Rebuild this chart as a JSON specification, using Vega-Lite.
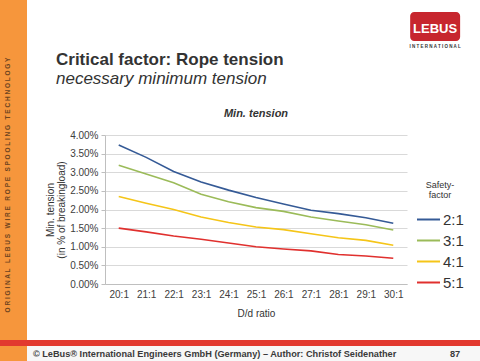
{
  "$schema": "https://vega.github.io/schema/vega-lite/v6.json",
  "padding": 0,
  "spacing": 0,
  "background": "white",
  "config": {
    "font": "Liberation Sans",
    "view": {"stroke": null},
    "concat": {"spacing": 0}
  },
  "datasets": {
    "tension": [
      {"ratio": "20:1", "factor": "2:1", "value": 0.0373},
      {"ratio": "21:1", "factor": "2:1", "value": 0.0340},
      {"ratio": "22:1", "factor": "2:1", "value": 0.0302},
      {"ratio": "23:1", "factor": "2:1", "value": 0.0274},
      {"ratio": "24:1", "factor": "2:1", "value": 0.0252},
      {"ratio": "25:1", "factor": "2:1", "value": 0.0232},
      {"ratio": "26:1", "factor": "2:1", "value": 0.0215},
      {"ratio": "27:1", "factor": "2:1", "value": 0.0198},
      {"ratio": "28:1", "factor": "2:1", "value": 0.0189},
      {"ratio": "29:1", "factor": "2:1", "value": 0.0178},
      {"ratio": "30:1", "factor": "2:1", "value": 0.0163},
      {"ratio": "20:1", "factor": "3:1", "value": 0.0319},
      {"ratio": "21:1", "factor": "3:1", "value": 0.0295},
      {"ratio": "22:1", "factor": "3:1", "value": 0.0272},
      {"ratio": "23:1", "factor": "3:1", "value": 0.0241},
      {"ratio": "24:1", "factor": "3:1", "value": 0.0221},
      {"ratio": "25:1", "factor": "3:1", "value": 0.0205},
      {"ratio": "26:1", "factor": "3:1", "value": 0.0195},
      {"ratio": "27:1", "factor": "3:1", "value": 0.0180},
      {"ratio": "28:1", "factor": "3:1", "value": 0.0169},
      {"ratio": "29:1", "factor": "3:1", "value": 0.0159},
      {"ratio": "30:1", "factor": "3:1", "value": 0.0145},
      {"ratio": "20:1", "factor": "4:1", "value": 0.0235},
      {"ratio": "21:1", "factor": "4:1", "value": 0.0217},
      {"ratio": "22:1", "factor": "4:1", "value": 0.0200},
      {"ratio": "23:1", "factor": "4:1", "value": 0.0180},
      {"ratio": "24:1", "factor": "4:1", "value": 0.0165},
      {"ratio": "25:1", "factor": "4:1", "value": 0.0153},
      {"ratio": "26:1", "factor": "4:1", "value": 0.0146},
      {"ratio": "27:1", "factor": "4:1", "value": 0.0135},
      {"ratio": "28:1", "factor": "4:1", "value": 0.0124},
      {"ratio": "29:1", "factor": "4:1", "value": 0.0117},
      {"ratio": "30:1", "factor": "4:1", "value": 0.0104},
      {"ratio": "20:1", "factor": "5:1", "value": 0.0150},
      {"ratio": "21:1", "factor": "5:1", "value": 0.0140},
      {"ratio": "22:1", "factor": "5:1", "value": 0.0129},
      {"ratio": "23:1", "factor": "5:1", "value": 0.0120},
      {"ratio": "24:1", "factor": "5:1", "value": 0.0110},
      {"ratio": "25:1", "factor": "5:1", "value": 0.0100},
      {"ratio": "26:1", "factor": "5:1", "value": 0.0094},
      {"ratio": "27:1", "factor": "5:1", "value": 0.0089},
      {"ratio": "28:1", "factor": "5:1", "value": 0.0079},
      {"ratio": "29:1", "factor": "5:1", "value": 0.0075},
      {"ratio": "30:1", "factor": "5:1", "value": 0.0069}
    ]
  },
  "vconcat": [
    {
      "hconcat": [
        {
          "width": 27,
          "height": 340,
          "view": {"fill": "#f6963c", "stroke": null},
          "data": {"values": [{"label": "O R I G I N A L\u00a0\u00a0\u00a0L E B U S\u00a0\u00a0\u00a0W I R E\u00a0\u00a0\u00a0R O P E\u00a0\u00a0\u00a0S P O O L I N G\u00a0\u00a0\u00a0T E C H N O L O G Y"}]},
          "mark": {"type": "text", "angle": 270, "fontSize": 6.5, "fontWeight": "bold", "color": "#6e4420", "baseline": "middle", "align": "center", "dx": -15, "dy": -5.5},
          "encoding": {"text": {"field": "label"}}
        },
        {
          "vconcat": [
            {
              "width": 362,
              "height": 50,
              "title": {
                "text": "Critical factor: Rope tension",
                "subtitle": "necessary minimum tension",
                "orient": "bottom",
                "anchor": "start",
                "dx": -49,
                "offset": 2,
                "fontSize": 17,
                "fontWeight": "bold",
                "color": "#333333",
                "subtitleFontSize": 17,
                "subtitleFontStyle": "italic",
                "subtitleColor": "#333333",
                "subtitlePadding": 2
              },
              "data": {"values": [{"logo": "LEBUS", "sub": "I N T E R N A T I O N A L"}]},
              "layer": [
                {
                  "mark": {"type": "rect", "color": "#c7262e", "cornerRadius": 4},
                  "encoding": {
                    "x": {"datum": 0.843, "type": "quantitative", "scale": {"domain": [0, 1]}, "axis": null},
                    "x2": {"datum": 0.981},
                    "y": {"datum": 0.76, "type": "quantitative", "scale": {"domain": [0, 1]}, "axis": null},
                    "y2": {"datum": 0.18}
                  }
                },
                {
                  "mark": {"type": "text", "color": "white", "fontSize": 13, "fontWeight": "bold", "baseline": "middle", "align": "center"},
                  "encoding": {
                    "x": {"datum": 0.912, "type": "quantitative"},
                    "y": {"datum": 0.42, "type": "quantitative"},
                    "text": {"field": "logo"}
                  }
                },
                {
                  "mark": {"type": "text", "color": "#333333", "fontSize": 4.5, "fontWeight": "bold", "baseline": "middle", "align": "center"},
                  "encoding": {
                    "x": {"datum": 0.912, "type": "quantitative"},
                    "y": {"datum": 0.06, "type": "quantitative"},
                    "text": {"field": "sub"}
                  }
                }
              ]
            },
            {
              "width": 302,
              "height": 149,
              "title": {
                "text": "Min. tension",
                "fontSize": 11,
                "fontWeight": "bold",
                "fontStyle": "italic",
                "color": "#333333",
                "anchor": "middle",
                "offset": 11
              },
              "data": {"name": "tension"},
              "mark": {"type": "line", "strokeWidth": 1.6},
              "encoding": {
                "x": {
                  "field": "ratio",
                  "type": "ordinal",
                  "sort": null,
                  "scale": {"type": "point", "padding": 0.5},
                  "axis": {
                    "title": "D/d ratio",
                    "labelAngle": 0,
                    "labelFontSize": 10,
                    "labelColor": "#404040",
                    "labelPadding": 5,
                    "ticks": false,
                    "domainColor": "#bfbfbf",
                    "titleFontSize": 10,
                    "titleFontWeight": "normal",
                    "titleColor": "#333333",
                    "titlePadding": 9
                  }
                },
                "y": {
                  "field": "value",
                  "type": "quantitative",
                  "scale": {"domain": [0, 0.04]},
                  "axis": {
                    "values": [0, 0.005, 0.01, 0.015, 0.02, 0.025, 0.03, 0.035, 0.04],
                    "format": ".2%",
                    "title": ["Min. tension", "(in % of breakingload)"],
                    "titleFontSize": 10,
                    "titleFontWeight": "normal",
                    "titleColor": "#333333",
                    "titleLineHeight": 11,
                    "titlePadding": 3,
                    "labelFontSize": 10,
                    "labelColor": "#404040",
                    "labelPadding": 3,
                    "tickSize": 4,
                    "tickColor": "#bfbfbf",
                    "domainColor": "#bfbfbf",
                    "gridColor": "#d9d9d9"
                  }
                },
                "color": {
                  "field": "factor",
                  "type": "nominal",
                  "scale": {"domain": ["2:1", "3:1", "4:1", "5:1"], "range": ["#355a96", "#9bbb59", "#f5c518", "#e0302e"]},
                  "legend": {
                    "title": ["Safety-", "factor"],
                    "orient": "none",
                    "legendX": 416,
                    "legendY": 181,
                    "padding": 0,
                    "titleFontSize": 9,
                    "titleFontWeight": "normal",
                    "titleColor": "#333333",
                    "titleAnchor": "middle",
                    "titleAlign": "center",
                    "titleLineHeight": 10,
                    "titlePadding": 7,
                    "symbolType": "stroke",
                    "symbolSize": 529,
                    "symbolStrokeWidth": 2,
                    "labelFontSize": 15,
                    "labelColor": "#333333",
                    "labelOffset": 2,
                    "rowPadding": -2.3
                  }
                }
              }
            }
          ],
          "spacing": 21
        }
      ],
      "spacing": 18
    },
    {
      "width": 480,
      "height": 6,
      "view": {"fill": "#e2392f", "stroke": null},
      "data": {"values": []},
      "mark": "rect",
      "encoding": {}
    },
    {
      "hconcat": [
        {
          "width": 27,
          "height": 15,
          "view": {"fill": "#f6963c", "stroke": null},
          "data": {"values": []},
          "mark": "rect",
          "encoding": {}
        },
        {
          "width": 453,
          "height": 15,
          "view": {"fill": "#f7f7f7", "stroke": null},
          "data": {"values": [{"footer": "© LeBus® International Engineers GmbH (Germany) – Author: Christof Seidenather", "page": "87"}]},
          "layer": [
            {
              "mark": {"type": "text", "fontSize": 9.2, "fontWeight": "bold", "color": "#3a3a3a", "align": "left", "baseline": "middle"},
              "encoding": {
                "x": {"datum": 0.013, "type": "quantitative", "scale": {"domain": [0, 1]}, "axis": null},
                "text": {"field": "footer"}
              }
            },
            {
              "mark": {"type": "text", "fontSize": 9.2, "fontWeight": "bold", "color": "#3a3a3a", "align": "center", "baseline": "middle"},
              "encoding": {
                "x": {"datum": 0.945, "type": "quantitative"},
                "text": {"field": "page"}
              }
            }
          ]
        }
      ]
    }
  ]
}
